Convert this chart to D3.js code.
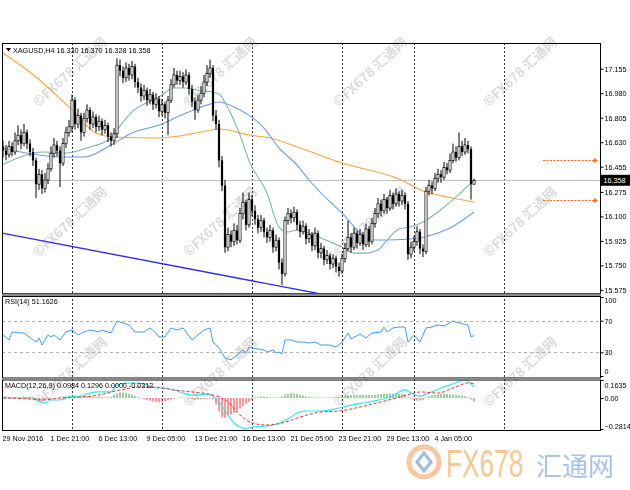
<!DOCTYPE html>
<html><head><meta charset="utf-8">
<script src="https://cdn.jsdelivr.net/npm/d3@7"></script>
<style>
html,body{margin:0;padding:0;background:#fff;}
svg{display:block;}
</style></head><body>
<svg id="chart" width="630" height="490"></svg>
<script>
// ---------------- DATA ----------------
const symbolTitle = "XAGUSD,H4";
const lastOHLC = ["16.330","16.370","16.328","16.358"];
const lastPrice = 16.358;

const opens = [16.60,16.57,16.54,16.60,16.56,16.64,16.68,16.62,16.70,16.62,
16.56,16.50,16.33,16.40,16.30,16.36,16.44,16.55,16.61,16.57,
16.48,16.62,16.70,16.74,16.93,16.76,16.82,16.70,16.80,16.86,
16.76,16.81,16.74,16.78,16.72,16.75,16.67,16.64,16.69,17.18,
17.14,17.09,17.16,17.11,17.17,17.06,17.02,16.96,17.00,16.93,
16.97,16.90,16.94,16.85,16.90,16.84,16.93,17.04,17.11,17.07,
17.10,17.06,17.11,17.01,16.92,16.86,16.93,16.98,17.06,17.12,
17.16,16.82,16.76,16.50,16.32,15.88,15.97,15.92,16.00,15.93,
16.12,16.20,16.04,16.22,16.14,16.08,16.02,16.07,15.99,15.95,
16.00,15.88,15.93,15.77,15.69,16.07,16.12,16.09,16.13,16.04,
15.99,16.03,15.94,15.97,15.89,15.98,15.84,15.87,15.79,15.82,
15.76,15.80,15.74,15.71,15.80,15.87,15.95,15.88,15.98,15.91,
15.97,15.90,16.01,15.92,16.05,16.12,16.19,16.14,16.22,16.16,
16.25,16.19,16.26,16.21,16.25,16.19,15.83,15.88,15.92,15.99,
15.87,15.85,16.28,16.32,16.30,16.37,16.40,16.38,16.45,16.43,
16.50,16.56,16.52,16.60,16.56,16.61,16.58,16.330];
const highs = [16.64,16.61,16.64,16.63,16.70,16.75,16.72,16.76,16.72,16.65,
16.59,16.52,16.44,16.43,16.41,16.48,16.60,16.66,16.64,16.60,
16.66,16.74,16.79,16.97,16.95,16.87,16.84,16.84,16.90,16.88,
16.85,16.83,16.82,16.80,16.79,16.77,16.70,16.73,17.23,17.22,
17.17,17.20,17.19,17.21,17.19,17.09,17.05,17.04,17.02,17.01,
16.99,16.98,16.96,16.94,16.92,16.96,17.08,17.16,17.14,17.14,
17.13,17.15,17.13,17.04,16.95,16.97,17.03,17.11,17.18,17.22,
17.18,16.86,16.79,16.53,16.36,16.02,16.00,16.05,16.04,16.16,
16.27,16.22,16.27,16.25,16.18,16.11,16.11,16.09,16.02,16.04,
16.02,15.97,15.95,15.80,16.10,16.16,16.15,16.17,16.15,16.07,
16.07,16.05,16.01,15.99,16.02,16.00,15.91,15.89,15.86,15.84,
15.83,15.82,15.77,15.83,15.91,16.07,15.98,16.02,16.00,16.01,
15.99,16.05,16.03,16.09,16.16,16.23,16.22,16.26,16.24,16.29,
16.27,16.30,16.28,16.29,16.27,16.21,15.92,15.96,16.03,16.01,
15.90,16.31,16.36,16.35,16.41,16.44,16.43,16.49,16.48,16.55,
16.62,16.60,16.70,16.64,16.66,16.64,16.60,16.370];
const lows = [16.52,16.50,16.52,16.53,16.54,16.61,16.58,16.60,16.58,16.53,
16.46,16.23,16.29,16.26,16.27,16.33,16.42,16.52,16.53,16.31,
16.46,16.59,16.67,16.70,16.72,16.73,16.64,16.67,16.77,16.72,
16.73,16.70,16.71,16.68,16.69,16.63,16.60,16.61,16.66,17.10,
17.05,17.06,17.07,17.08,17.02,16.98,16.92,16.93,16.89,16.90,
16.86,16.87,16.81,16.82,16.80,16.68,16.91,17.02,17.04,17.04,
17.02,17.04,16.97,16.88,16.79,16.84,16.90,16.95,17.03,17.09,
16.78,16.72,16.45,16.28,15.84,15.85,15.88,15.89,15.90,15.91,
16.08,16.00,16.02,16.10,16.04,15.98,15.99,15.95,15.91,15.92,
15.84,15.85,15.72,15.61,15.67,16.04,16.05,16.06,16.00,15.95,
15.97,15.90,15.91,15.85,15.86,15.80,15.80,15.75,15.76,15.72,
15.73,15.70,15.67,15.69,15.77,15.85,15.84,15.86,15.87,15.89,
15.86,15.88,15.88,15.90,16.02,16.09,16.10,16.12,16.12,16.14,
16.15,16.17,16.17,16.18,16.15,15.79,15.80,15.85,15.89,15.83,
15.81,15.83,16.25,16.26,16.28,16.34,16.34,16.36,16.40,16.41,
16.48,16.49,16.50,16.53,16.54,16.55,16.22,16.328];
const closes = [16.57,16.54,16.60,16.56,16.64,16.68,16.62,16.70,16.62,16.56,
16.50,16.33,16.40,16.30,16.36,16.44,16.55,16.61,16.57,16.48,
16.62,16.70,16.74,16.93,16.76,16.82,16.70,16.80,16.86,16.76,
16.81,16.74,16.78,16.72,16.75,16.67,16.64,16.69,17.18,17.14,
17.09,17.16,17.11,17.17,17.06,17.02,16.96,17.00,16.93,16.97,
16.90,16.94,16.85,16.90,16.84,16.93,17.04,17.11,17.07,17.10,
17.06,17.11,17.01,16.92,16.86,16.93,16.98,17.06,17.12,17.16,
16.82,16.76,16.50,16.32,15.88,15.97,15.92,16.00,15.93,16.12,
16.20,16.04,16.22,16.14,16.08,16.02,16.07,15.99,15.95,16.00,
15.88,15.93,15.77,15.69,16.07,16.12,16.09,16.13,16.04,15.99,
16.03,15.94,15.97,15.89,15.98,15.84,15.87,15.79,15.82,15.76,
15.80,15.74,15.71,15.80,15.87,15.95,15.88,15.98,15.91,15.97,
15.90,16.01,15.92,16.05,16.12,16.19,16.14,16.22,16.16,16.25,
16.19,16.26,16.21,16.25,16.19,15.83,15.88,15.92,15.99,15.87,
15.85,16.28,16.32,16.30,16.37,16.40,16.38,16.45,16.43,16.50,
16.56,16.52,16.60,16.56,16.61,16.58,16.33,16.358];

// moving averages (vertices: bar index / value)
const maSlowBars = [0,11,23,31,37,52,66,72,82,89,99,113,132,141,148,157];
const maSlowVals = [17.267,17.096,16.860,16.696,16.667,16.660,16.703,16.724,16.681,16.660,16.589,16.481,16.367,16.274,16.239,16.203];
const maMidBars = [0,6,12,21,27,36,43,52,61,68,72,77,87,92,98,102,113,123,128,139,143,149,157];
const maMidVals = [16.588,16.560,16.539,16.524,16.524,16.610,16.696,16.753,16.838,16.895,16.917,16.881,16.731,16.589,16.467,16.360,16.124,15.931,15.931,15.946,15.967,16.017,16.131];
const maFastBars = [0,4,13,21,28,36,38,43,52,57,61,66,70,72,75,79,82,88,92,95,98,102,106,113,117,121,125,128,132,137,140,145,151,157];
const maFastVals = [16.47,16.51,16.560,16.553,16.589,16.660,16.717,16.846,16.953,17.017,17.017,16.996,16.988,16.974,16.874,16.681,16.496,16.267,16.024,15.989,16.003,15.981,15.946,15.881,15.838,15.838,15.860,15.931,16.010,16.031,16.060,16.131,16.239,16.360];

// trend line (bar, price)
const trendBars = [-0.33, 105];
const trendPrices = [15.98, 15.55];

// orange price arrows
const arrowPrices = [16.503, 16.215];
const arrowBars = [180, 198.3];

// period separators (bar index)
const separatorBars = [23, 53, 83, 113, 137, 167];

// price axis
const priceTicks = [17.155,16.980,16.805,16.630,16.455,16.275,16.100,15.925,15.750,15.575];

// time axis
const timeLabelBars = [0,16,32,48,64,80,96,112,128,144];
const timeLabels = ["29 Nov 2016","1 Dec 21:00","6 Dec 13:00","9 Dec 05:00","13 Dec 21:00","16 Dec 13:00","21 Dec 05:00","23 Dec 21:00","29 Dec 13:00","4 Jan 05:00"];

// RSI(14)
const rsiLabel = "RSI(14) 51.1626";
const rsiTicks = [100,70,30,0];
const rsiLevels = [70,30];
const rsiBars = [0,2,3,6,7,10,11,12,13,15,16,17,19,21,23,25,27,29,32,33,36,38,40,42,44,47,49,51,52,54,56,58,60,63,67,69,70,72,74,76,78,80,81,82,83,87,88,90,91,92,93,94,96,98,100,102,104,106,109,111,113,115,116,119,121,123,126,127,128,130,132,134,135,137,139,141,143,145,147,150,152,155,156,157];
const rsiVals = [51.9,45.6,55.7,54.4,54.4,45.6,43.0,48.1,39.2,51.9,49.4,51.9,45.6,55.7,58.2,51.9,55.7,58.2,55.7,58.2,54.4,69.6,67.1,64.6,55.7,55.7,60.8,54.4,49.4,49.4,60.8,58.2,60.8,45.6,58.2,60.8,43.0,35.4,22.8,20.3,26.6,32.9,29.1,36.7,35.4,32.9,30.4,32.9,29.1,30.4,28.0,45.6,45.6,43.0,43.0,41.8,43.0,39.2,39.2,36.7,43.0,54.4,46.8,53.2,48.1,54.4,55.7,62.0,55.7,60.8,62.0,62.0,43.0,51.9,43.0,60.8,62.0,64.6,63.3,69.6,67.1,64.6,49.4,51.16];

// MACD(12,26,9)
const macdLabel = "MACD(12,26,9) 0.0984 0.1296 0.0000 -0.0312";
const macdTicks = [0.1635, 0, -0.2814];
const macdBars = [0,6,9,12,14,16,19,22,26,29,32,36,38,41,45,48,51,53,57,60,63,68,70,72,75,77,79,81,83,87,90,93,96,98,101,106,112,116,122,129,134,136,139,142,146,149,152,154,157];
const macdVals = [0.000,0.000,0.009,-0.027,-0.045,-0.018,-0.018,0.009,0.018,0.045,0.055,0.055,0.118,0.136,0.136,0.118,0.091,0.091,0.073,0.045,0.027,0.036,0.018,-0.036,-0.155,-0.227,-0.264,-0.281,-0.264,-0.255,-0.245,-0.218,-0.173,-0.136,-0.118,-0.118,-0.091,-0.064,-0.036,0.009,0.073,0.045,0.018,0.045,0.091,0.118,0.150,0.1635,0.0984];
const signalBars = [0,9,13,19,26,32,39,46,50,57,63,70,75,79,83,88,93,99,106,112,119,126,131,137,139,145,150,155,157];
const signalVals = [0.000,-0.009,-0.018,0.000,0.009,0.027,0.073,0.100,0.100,0.073,0.055,0.027,-0.036,-0.155,-0.227,-0.245,-0.227,-0.173,-0.127,-0.118,-0.082,-0.036,0.000,0.045,0.055,0.045,0.091,0.136,0.1296];
const histVals = [0.012,0.014,0.010,
0.006,0.004,0.002,0.000,-0.004,-0.006,-0.008,
-0.012,-0.018,-0.022,-0.024,-0.020,-0.014,-0.008,
-0.004,0.000,0.006,0.012,
0.018,0.022,0.024,0.020,0.016,0.014,
0.014,0.016,0.014,0.012,0.010,0.008,
0.006,0.004,0.006,0.010,
0.030,0.042,0.050,0.052,0.048,0.040,0.030,0.020,0.010,
-0.004,-0.012,-0.020,-0.026,-0.032,-0.036,-0.038,-0.034,-0.028,-0.022,-0.016,
-0.006,0.002,0.006,0.004,0.000,-0.006,
-0.012,-0.016,-0.014,-0.012,-0.010,-0.008,-0.006,-0.014,
-0.060,-0.120,-0.175,-0.180,-0.165,-0.150,-0.135,-0.115,-0.095,-0.075,-0.055,-0.035,-0.018,
0.006,0.010,0.014,0.012,0.010,0.008,
0.006,0.006,0.004,
0.014,0.030,0.038,0.042,0.040,0.036,0.030,0.022,0.016,
0.010,0.008,0.006,0.006,0.004,0.004,0.004,0.006,0.006,0.008,0.010,
0.018,0.022,0.026,0.028,0.030,0.030,0.028,0.028,0.026,0.026,0.026,0.028,0.030,
0.034,0.036,0.038,0.040,0.040,0.038,0.036,0.036,0.030,
0.006,-0.010,-0.020,-0.024,-0.022,-0.016,
0.004,0.016,0.024,0.030,0.034,0.036,0.038,0.036,0.034,0.032,0.028,0.024,0.020,0.014,0.008,-0.012,
-0.0312];

// watermark
const wmText = "©FX678 汇通网";
const wmCols = [70,220,370,520];
const wmRows = [72,222,372];

// ---------------- LAYOUT ----------------
const svg = d3.select('#chart');
const FONT = '"Liberation Sans", Arial, sans-serif';
const FS = 7.2;
const L = 2, R = 600;
const mainT = 43, mainB = 293;
const rsiT = 296, rsiB = 377.5;
const macdT = 379.5, macdB = 430;

const x = d3.scaleLinear().domain([0, 199]).range([3, 600]);
const y = d3.scaleLinear().domain([15.575, 17.155]).range([289.9, 68.7]);
const yR = d3.scaleLinear().domain([0, 100]).range([376, 297]);
const yM = d3.scaleLinear().domain([-0.2814, 0.1635]).range([429, 380]);

svg.append('rect').attr('width',630).attr('height',490).attr('fill','#fff');

const defs = svg.append('defs');
[['clipMain',mainT,mainB],['clipRsi',rsiT,rsiB],['clipMacd',macdT,macdB]].forEach(([id,t,b])=>{
  defs.append('clipPath').attr('id',id).append('rect').attr('x',L).attr('y',t).attr('width',R-L).attr('height',b-t);
});

// watermarks
const wm = svg.append('g').attr('opacity',0.55);
wmRows.forEach(ry=>wmCols.forEach(cx=>{
  wm.append('text').attr('transform',`translate(${cx},${ry}) rotate(-43)`)
    .attr('text-anchor','middle').attr('dy','0.35em')
    .attr('font-family','"Noto Sans CJK SC", "DejaVu Sans", sans-serif')
    .attr('font-weight','bold').attr('font-size',13.5)
    .attr('fill','#bdbdbd').text(wmText);
}));

// period separators
svg.append('g').selectAll('line').data(separatorBars).join('line')
  .attr('x1',d=>Math.round(x(d))+0.5).attr('x2',d=>Math.round(x(d))+0.5)
  .attr('y1',mainT).attr('y2',macdB)
  .attr('stroke','#333').attr('stroke-width',1).attr('stroke-dasharray','2,2');

// ---- main panel ----
const gMain = svg.append('g').attr('clip-path','url(#clipMain)');
gMain.append('line').attr('x1',L).attr('x2',R)
  .attr('y1',Math.round(y(lastPrice))+0.5).attr('y2',Math.round(y(lastPrice))+0.5)
  .attr('stroke','#c0c0c0').attr('stroke-width',1);

gMain.append('line')
  .attr('x1',x(trendBars[0])).attr('y1',y(trendPrices[0]))
  .attr('x2',x(trendBars[1])).attr('y2',y(trendPrices[1]))
  .attr('stroke','#2a2af0').attr('stroke-width',1.3);

const maLine = d3.line().x(d=>x(d[0])).y(d=>y(d[1])).curve(d3.curveMonotoneX);
[[maSlowBars,maSlowVals,'#f9a43c'],[maMidBars,maMidVals,'#6f9ce8'],[maFastBars,maFastVals,'#7db5ad']].forEach(([b,v,c])=>{
  gMain.append('path').datum(b.map((bb,k)=>[bb,v[k]]))
    .attr('d',maLine).attr('fill','none').attr('stroke',c).attr('stroke-width',1.1);
});

const candles = closes.map((c,i)=>({i,o:opens[i],h:highs[i],l:lows[i],c}));
const gC = gMain.append('g');
gC.selectAll('line').data(candles).join('line')
  .attr('x1',d=>x(d.i)).attr('x2',d=>x(d.i))
  .attr('y1',d=>y(d.h)).attr('y2',d=>y(d.l))
  .attr('stroke','#000').attr('stroke-width',1);
gC.selectAll('rect').data(candles).join('rect')
  .attr('x',d=>x(d.i)-1.1).attr('width',2.2)
  .attr('y',d=>y(Math.max(d.o,d.c)))
  .attr('height',d=>Math.max(0.8,Math.abs(y(d.o)-y(d.c))))
  .attr('fill',d=>d.c>=d.o?'#fff':'#000')
  .attr('stroke','#000').attr('stroke-width',d=>d.c>=d.o?0.7:0);

// orange arrows
const gA = svg.append('g');
arrowPrices.forEach(p=>{
  const yy = Math.round(y(p))+0.5;
  gA.append('line').attr('x1',x(arrowBars[0])).attr('x2',x(arrowBars[1])-2)
    .attr('y1',yy).attr('y2',yy).attr('stroke','#ff6a1a').attr('stroke-width',1).attr('stroke-dasharray','2,1.5');
  const ex = x(arrowBars[1]);
  gA.append('path').attr('d',`M${ex-4},${yy-2.5}L${ex},${yy}L${ex-4},${yy+2.5}Z`).attr('fill','#ff6a1a');
});

// header
svg.append('path').attr('d','M6,48L11,48L8.5,51.5Z').attr('fill','#000');
svg.append('text').attr('x',13).attr('y',52.5).attr('font-family',FONT).attr('font-size',FS)
  .text(symbolTitle+'  '+lastOHLC.join(' '));

// ---- RSI panel ----
const gR = svg.append('g').attr('clip-path','url(#clipRsi)');
gR.selectAll('line.lvl').data(rsiLevels).join('line').attr('class','lvl')
  .attr('x1',L).attr('x2',R).attr('y1',d=>Math.round(yR(d))+0.5).attr('y2',d=>Math.round(yR(d))+0.5)
  .attr('stroke','#b0b0b0').attr('stroke-dasharray','3,3');
gR.append('path').datum(rsiBars.map((b,k)=>[b,rsiVals[k]]))
  .attr('d',d3.line().x(d=>x(d[0])).y(d=>yR(d[1])))
  .attr('fill','none').attr('stroke','#3d9bff').attr('stroke-width',1);
svg.append('text').attr('x',5).attr('y',304).attr('font-family',FONT).attr('font-size',FS).text(rsiLabel);

// ---- MACD panel ----
const gM = svg.append('g').attr('clip-path','url(#clipMacd)');
gM.selectAll('line.h').data(histVals.map((v,i)=>({i,v}))).join('line').attr('class','h')
  .attr('x1',d=>x(d.i)).attr('x2',d=>x(d.i))
  .attr('y1',yM(0)).attr('y2',d=>yM(d.v))
  .attr('stroke',d=>d.v>=0?'#3c9a3c':'#ff3030').attr('stroke-width',1);
gM.append('path').datum(macdBars.map((b,k)=>[b,macdVals[k]]))
  .attr('d',d3.line().x(d=>x(d[0])).y(d=>yM(d[1])).curve(d3.curveMonotoneX))
  .attr('fill','none').attr('stroke','#2ee8f5').attr('stroke-width',1.2);
gM.append('path').datum(signalBars.map((b,k)=>[b,signalVals[k]]))
  .attr('d',d3.line().x(d=>x(d[0])).y(d=>yM(d[1])).curve(d3.curveMonotoneX))
  .attr('fill','none').attr('stroke','#ff2a2a').attr('stroke-width',1).attr('stroke-dasharray','3,2');
svg.append('text').attr('x',5).attr('y',388).attr('font-family',FONT).attr('font-size',FS).text(macdLabel);

// ---- frames / separators ----
const frames = svg.append('g').attr('fill','none').attr('stroke','#000');
frames.append('rect').attr('x',L+0.5).attr('y',mainT+0.5).attr('width',R-L).attr('height',mainB-mainT);
frames.append('rect').attr('x',L+0.5).attr('y',rsiT+0.5).attr('width',R-L).attr('height',rsiB-rsiT);
frames.append('rect').attr('x',L+0.5).attr('y',macdT+0.5).attr('width',R-L).attr('height',macdB-macdT);
svg.append('rect').attr('x',L).attr('y',mainB+0.5).attr('width',R-L+1).attr('height',2.5).attr('fill','#8a8a8a');
svg.append('rect').attr('x',L).attr('y',rsiB+0.5).attr('width',R-L+1).attr('height',1.5).attr('fill','#8a8a8a');

// ---- axes ----
function styleAxis(g){
  g.select('.domain').remove();
  g.attr('font-family',FONT).attr('font-size',FS);
  g.selectAll('.tick line').attr('stroke','#000');
  g.selectAll('.tick text').attr('fill','#000');
}
svg.append('g').attr('transform',`translate(${R+0.5},0)`)
  .call(d3.axisRight(y).tickValues(priceTicks).tickFormat(d3.format('.3f')).tickSize(3).tickPadding(1))
  .call(styleAxis);

// current price box
const yp = y(lastPrice);
svg.append('rect').attr('x',R+1).attr('y',yp-5.5).attr('width',29).attr('height',11).attr('fill','#000');
svg.append('text').attr('x',R+3.5).attr('y',yp).attr('dy','0.35em').attr('font-family',FONT).attr('font-size',FS)
  .attr('fill','#fff').text(lastPrice.toFixed(3));

svg.append('g').attr('transform',`translate(${R+0.5},0)`)
  .call(d3.axisRight(yR).tickValues(rsiTicks).tickSize(3).tickPadding(1))
  .call(styleAxis)
  .call(g=>g.selectAll('.tick text').attr('dy',d=>d===100?'0.75em':d===0?'-0.28em':'0.32em'));

svg.append('g').attr('transform',`translate(${R+0.5},0)`)
  .call(d3.axisRight(yM).tickValues(macdTicks).tickFormat(d=>d===0?'0.00':d3.format('.4f')(d)).tickSize(3).tickPadding(1))
  .call(styleAxis)
  .call(g=>g.selectAll('.tick text').attr('dy',d=>d>0?'1.0em':d<0?'-0.1em':'0.32em'));

svg.append('g').attr('transform',`translate(0,${macdB})`)
  .call(d3.axisBottom(x).tickValues(timeLabelBars).tickFormat((d,k)=>timeLabels[k]).tickSize(0).tickPadding(5.4))
  .call(styleAxis)
  .call(g=>g.selectAll('.tick text').attr('text-anchor','start').attr('x',-1));

// ---- bottom logo ----
const logo = svg.append('g');
logo.append('circle').attr('cx',424).attr('cy',462).attr('r',15).attr('fill','none')
  .attr('stroke','#f7b98a').attr('stroke-width',5).attr('opacity',0.8);
logo.append('path').attr('d','M424,453 L431,462 L424,471 L417,462 Z').attr('fill','none')
  .attr('stroke','#9fbce4').attr('stroke-width',3);
logo.append('text').attr('transform','translate(446,477) scale(0.69,1)')
  .attr('font-family','"Liberation Sans", Arial, sans-serif')
  .attr('font-size',38).attr('fill','#f9c790').text('FX678');
logo.append('text').attr('x',536).attr('y',476).attr('font-family','"Noto Sans CJK SC", sans-serif')
  .attr('font-size',26).attr('fill','#a9c2e6').text('汇通网');
</script>
</body></html>
